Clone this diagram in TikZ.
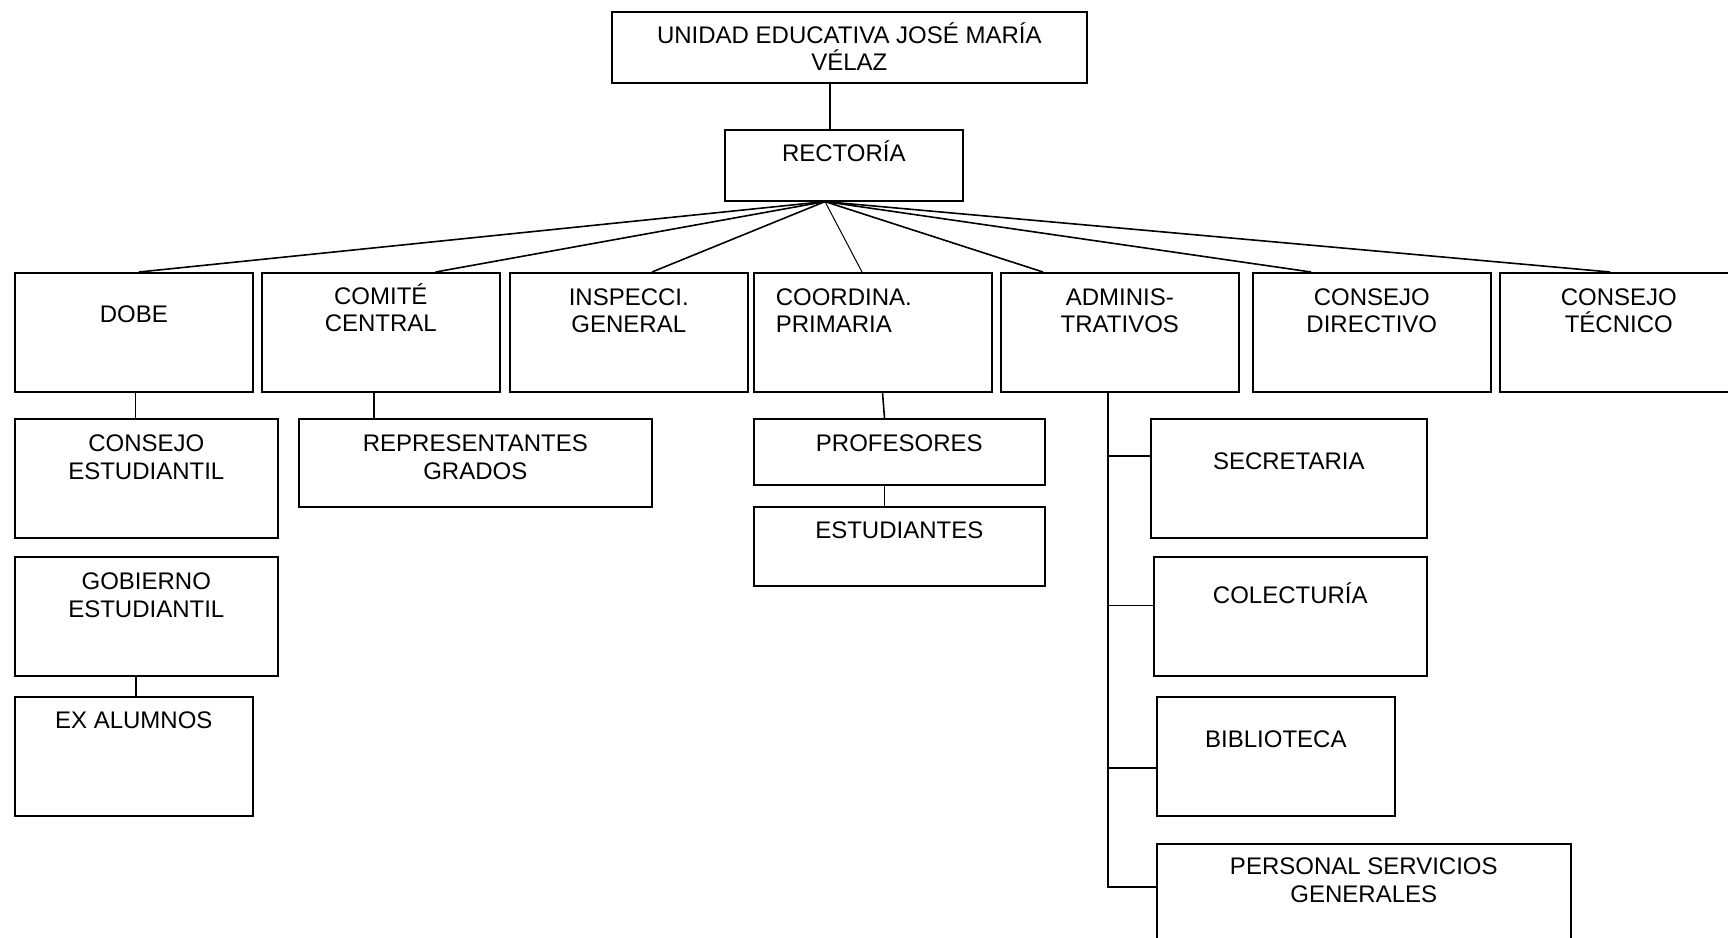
\documentclass[tikz,border=0pt]{standalone}
\usepackage{fontspec}
\setmainfont{Liberation Sans}
\usepackage{tikz}
\usetikzlibrary{positioning, calc}

\begin{document}
\begin{tikzpicture}[x=0.5pt, y=-0.5pt, line width=0.8pt,
    box/.style={draw, inner sep=0pt, anchor=north west},
    lbl/.style={font=\fontsize{12}{13.6}\selectfont, align=center, inner sep=0pt,
                execute at begin node={\rule{0pt}{11.5pt}}}]
          \useasboundingbox (0,0) rectangle (1728,937);
          \clip (0,0) rectangle (1728,937);

          % top
          \node[box, minimum width=237.5pt, minimum height=35.5pt] (unidad) at (611,11) {};
          \node[lbl, below=5.5pt of unidad.north] (tunidad) {UNIDAD EDUCATIVA JOSÉ MARÍA\\VÉLAZ};
          \node[box, minimum width=119pt, minimum height=35.5pt] (rector) at (724,129) {};
          \node[lbl, below=4.5pt of rector.north] (trector) {RECTORÍA};

          % first row
          \node[box, minimum width=119pt, minimum height=59.5pt] (dobe) at (14,272) {};
          \node[box, minimum width=119pt, minimum height=59.5pt] (comite) at (261,272) {};
          \node[box, minimum width=119pt, minimum height=59.5pt] (inspec) at (509,272) {};
          \node[box, minimum width=119pt, minimum height=59.5pt] (coord) at (753,272) {};
          \node[box, minimum width=119pt, minimum height=59.5pt] (admin) at (1000,272) {};
          \node[box, minimum width=119pt, minimum height=59.5pt] (cdir) at (1252,272) {};
          \node[box, minimum width=119pt, minimum height=59.5pt] (ctec) at (1499,272) {};
          \node[lbl, below=13.35pt of dobe.north] (tdobe) {DOBE};
          \node[lbl, below=5.5pt of comite.north] (tcomite) {COMITÉ\\CENTRAL};
          \node[lbl, below=7.75pt of inspec.north] (tinspec) {INSPECCI.\\GENERAL};
          \node[lbl, align=left, below right=7.75pt and 11pt of coord.north west] (tcoord) {COORDINA.\\PRIMARIA};
          \node[lbl, below=7.75pt of admin.north] (tadmin) {ADMINIS-\\TRATIVOS};
          \node[lbl, below=7.75pt of cdir.north] (tcdir) {CONSEJO\\DIRECTIVO};
          \node[lbl, below=7.75pt of ctec.north] (tctec) {CONSEJO\\TÉCNICO};

          % second level
          \node[box, minimum width=131.5pt, minimum height=59.5pt] (cest) at (14,418) {};
          \node[box, minimum width=131.5pt, minimum height=59.5pt] (gob) at (14,556) {};
          \node[box, minimum width=119pt, minimum height=59.5pt] (exal) at (14,696) {};
          \node[box, minimum width=176.5pt, minimum height=44pt] (repr) at (298,418) {};
          \node[box, minimum width=145.5pt, minimum height=33pt] (prof) at (753,418) {};
          \node[box, minimum width=145.5pt, minimum height=39.5pt] (estu) at (753,506) {};
          \node[box, minimum width=138pt, minimum height=59.5pt] (secr) at (1150,418) {};
          \node[box, minimum width=136.5pt, minimum height=59.5pt] (cole) at (1153,556) {};
          \node[box, minimum width=119pt, minimum height=59.5pt] (bibl) at (1156,696) {};
          \node[box, minimum width=207pt, minimum height=59.5pt] (pers) at (1156,843) {};
          \node[lbl, below=8.2pt of cest.north] (tcest) {CONSEJO\\ESTUDIANTIL};
          \node[lbl, below=8.2pt of gob.north] (tgob) {GOBIERNO\\ESTUDIANTIL};
          \node[lbl, below=4.5pt of exal.north] (texal) {EX ALUMNOS};
          \node[lbl, below=8.2pt of repr.north] (trepr) {REPRESENTANTES\\GRADOS};
          \node[lbl, below=5pt of prof.north] (tprof) {PROFESORES};
          \node[lbl, below=4.5pt of estu.north] (testu) {ESTUDIANTES};
          \node[lbl, below=13.75pt of secr.north] (tsecr) {SECRETARIA};
          \node[lbl, below=12pt of cole.north] (tcole) {COLECTURÍA};
          \node[lbl, below=13.85pt of bibl.north] (tbibl) {BIBLIOTECA};
          \node[lbl, below=7.2pt of pers.north] (tpers) {PERSONAL SERVICIOS\\GENERALES};

          % connectors
          \draw ($(unidad.south west)+(219,0)$) -- ($(rector.north west)+(106,0)$);
          \coordinate (apex) at ($(rector.south west)+(101,0)$);
          \draw (apex) -- ($(dobe.north west)+(125,0)$);
          \draw (apex) -- ($(comite.north west)+(174.6,0)$);
          \draw (apex) -- ($(inspec.north west)+(143,0)$);
          \draw[line width=0.5pt] (apex) -- ($(coord.north west)+(109,0)$);
          \draw (apex) -- ($(admin.north west)+(43,0)$);
          \draw (apex) -- ($(cdir.north west)+(59,0)$);
          \draw (apex) -- ($(ctec.north west)+(111,0)$);

          \draw ($(dobe.south west)+(121.5,0)$) -- ($(cest.north west)+(121.5,0)$);
          \draw ($(gob.south west)+(122,0)$) -- ($(exal.north west)+(122,0)$);
          \draw ($(comite.south west)+(113,0)$) -- ($(repr.north west)+(76,0)$);
          \draw ($(coord.south west)+(129.5,0)$) -- ($(prof.north west)+(131.5,0)$);
          \draw ($(prof.south west)+(131.5,0)$) -- ($(estu.north west)+(131.5,0)$);

          \coordinate (spine) at ($(admin.south west)+(108,0)$);
          \draw (spine) |- ($(secr.north west)+(0,37.7)$);
          \draw (spine) |- ($(cole.north west)+(0,49.6)$);
          \draw (spine) |- ($(bibl.north west)+(0,72)$);
          \draw (spine) |- ($(pers.north west)+(0,44)$);
    \end{tikzpicture}
\end{document}
